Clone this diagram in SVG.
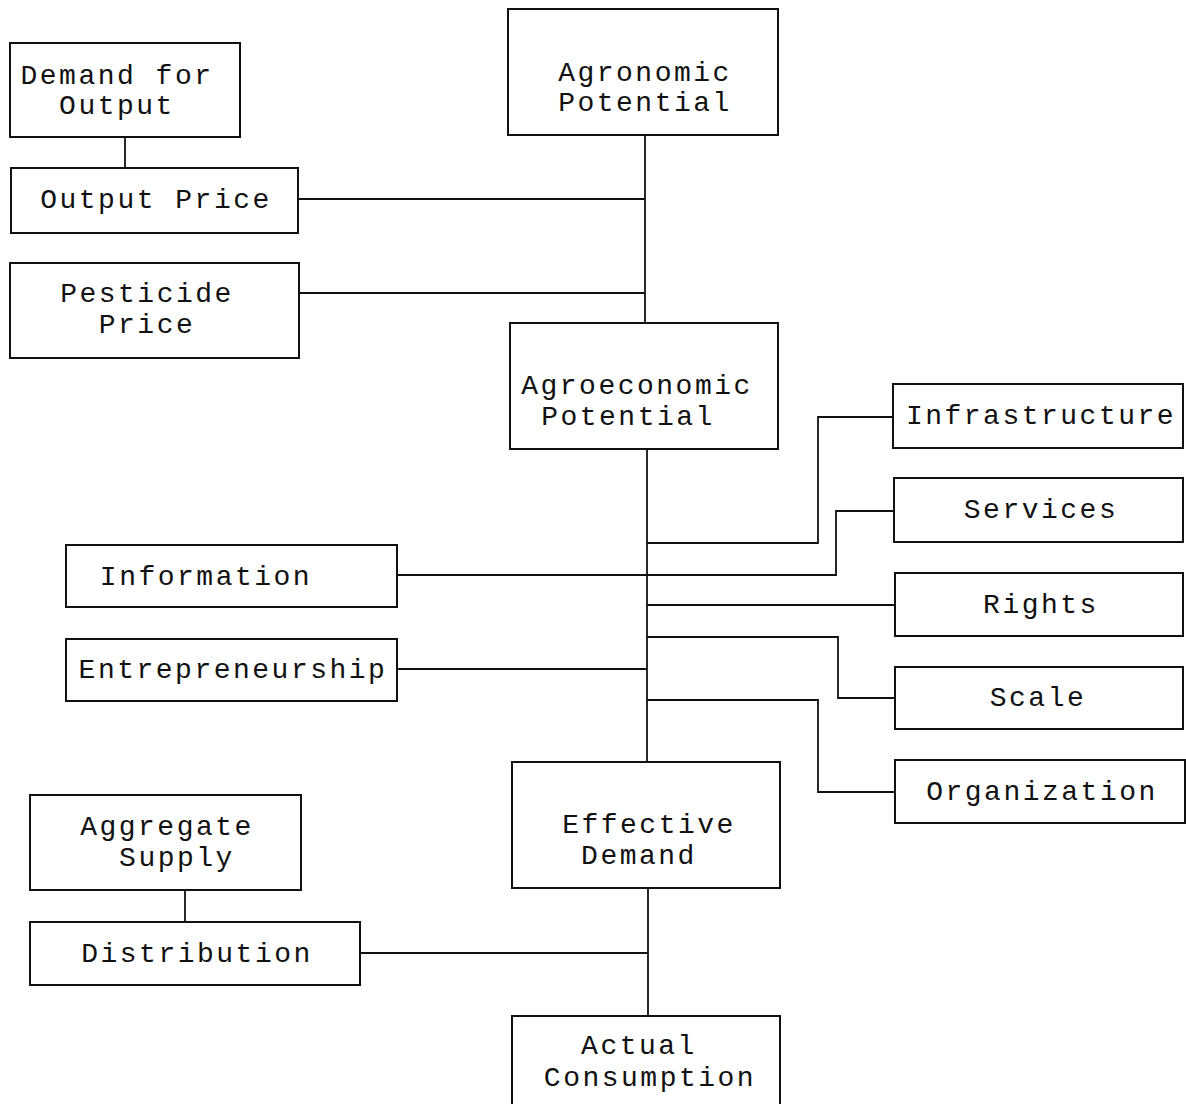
<svg xmlns="http://www.w3.org/2000/svg" width="1186" height="1104" viewBox="0 0 1186 1104">
<style>
  .box { fill: #ffffff; stroke: #111111; stroke-width: 2; }
  .lbl { font-family: "Liberation Mono", "Courier New", monospace; font-size: 28px; letter-spacing: 2.5px; fill: #111111; text-anchor: middle; }
  .conn { fill: none; stroke: #111111; stroke-width: 1.8; }
</style>
<rect width="1186" height="1104" fill="#ffffff"/>
<g id="connectors">
  <path class="conn" d="M125,137 V168"/>
  <path class="conn" d="M298,199 H645"/>
  <path class="conn" d="M299,293 H645"/>
  <path class="conn" d="M645,135 V323"/>
  <path class="conn" d="M647,449 V762"/>
  <path class="conn" d="M647,543 H818 V417 H893"/>
  <path class="conn" d="M397,575 H836 V511 H894"/>
  <path class="conn" d="M647,605 H895"/>
  <path class="conn" d="M647,637 H838 V698 H895"/>
  <path class="conn" d="M397,669 H647"/>
  <path class="conn" d="M647,700 H818 V792 H895"/>
  <path class="conn" d="M648,888 V1016"/>
  <path class="conn" d="M360,953 H648"/>
  <path class="conn" d="M185,890 V922"/>
</g>
<g id="demand-for-output">
  <rect class="box" x="10" y="43" width="230" height="94"/>
  <text class="lbl" x="117" y="84">Demand for</text>
  <text class="lbl" x="117" y="114">Output</text>
</g>
<g id="output-price">
  <rect class="box" x="11" y="168" width="287" height="65"/>
  <text class="lbl" x="156" y="208">Output Price</text>
</g>
<g id="pesticide-price">
  <rect class="box" x="10" y="263" width="289" height="95"/>
  <text class="lbl" x="147" y="302">Pesticide</text>
  <text class="lbl" x="147" y="333">Price</text>
</g>
<g id="agronomic-potential">
  <rect class="box" x="508" y="9" width="270" height="126"/>
  <text class="lbl" x="645" y="81">Agronomic</text>
  <text class="lbl" x="645" y="111">Potential</text>
</g>
<g id="agroeconomic-potential">
  <rect class="box" x="510" y="323" width="268" height="126"/>
  <text class="lbl" x="637" y="394">Agroeconomic</text>
  <text class="lbl" x="628" y="425">Potential</text>
</g>
<g id="infrastructure">
  <rect class="box" x="893" y="384" width="290" height="64"/>
  <text class="lbl" x="1041" y="424">Infrastructure</text>
</g>
<g id="services">
  <rect class="box" x="894" y="478" width="289" height="64"/>
  <text class="lbl" x="1041" y="518">Services</text>
</g>
<g id="rights">
  <rect class="box" x="895" y="573" width="288" height="63"/>
  <text class="lbl" x="1041" y="613">Rights</text>
</g>
<g id="scale">
  <rect class="box" x="895" y="667" width="288" height="62"/>
  <text class="lbl" x="1038" y="706">Scale</text>
</g>
<g id="organization">
  <rect class="box" x="895" y="760" width="290" height="63"/>
  <text class="lbl" x="1042" y="800">Organization</text>
</g>
<g id="information">
  <rect class="box" x="66" y="545" width="331" height="62"/>
  <text class="lbl" x="206" y="585">Information</text>
</g>
<g id="entrepreneurship">
  <rect class="box" x="66" y="639" width="331" height="62"/>
  <text class="lbl" x="233" y="678">Entrepreneurship</text>
</g>
<g id="effective-demand">
  <rect class="box" x="512" y="762" width="268" height="126"/>
  <text class="lbl" x="649" y="833">Effective</text>
  <text class="lbl" x="639" y="864">Demand</text>
</g>
<g id="aggregate-supply">
  <rect class="box" x="30" y="795" width="271" height="95"/>
  <text class="lbl" x="167" y="835">Aggregate</text>
  <text class="lbl" x="177" y="866">Supply</text>
</g>
<g id="distribution">
  <rect class="box" x="30" y="922" width="330" height="63"/>
  <text class="lbl" x="197" y="962">Distribution</text>
</g>
<g id="actual-consumption">
  <rect class="box" x="512" y="1016" width="268" height="100"/>
  <text class="lbl" x="639" y="1054">Actual</text>
  <text class="lbl" x="650" y="1086">Consumption</text>
</g>
</svg>
